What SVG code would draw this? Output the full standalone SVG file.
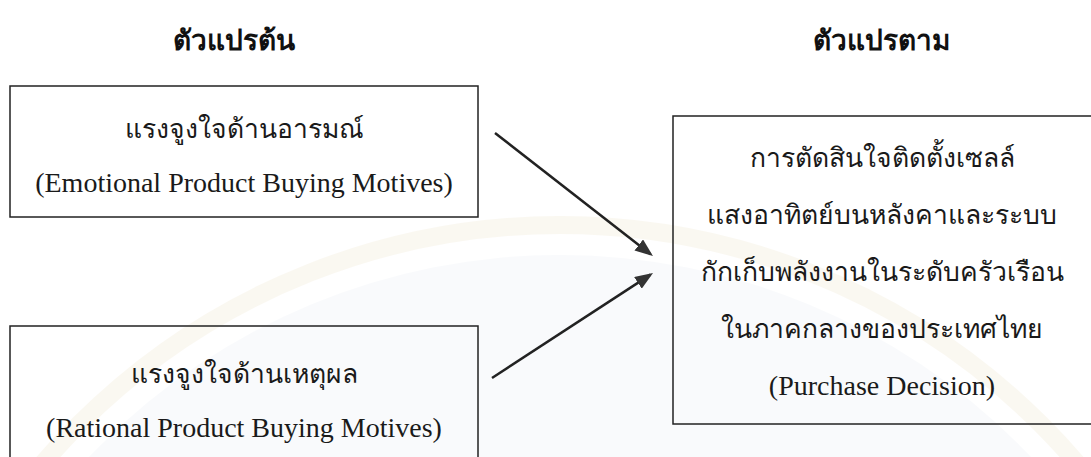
<svg xmlns="http://www.w3.org/2000/svg" width="1091" height="457" viewBox="0 0 1091 457">
  <style>
    .box { fill: none; stroke: #222; stroke-width: 1.5; }
    .th { font-family: "Liberation Serif", serif; font-size: 26.5px; fill: #1a1a1a; text-anchor: middle; }
    .en { font-family: "Liberation Serif", serif; font-size: 28px; fill: #1a1a1a; text-anchor: middle; }
    .title { font-family: "Liberation Serif", serif; font-size: 28px; font-weight: bold; fill: #111; text-anchor: middle; }
    .conn { stroke: #222; stroke-width: 2.5; fill: none; marker-end: url(#arrow); }
  </style>
  <defs>
    <marker id="arrow" viewBox="0 0 18 14" refX="15" refY="7" markerWidth="18" markerHeight="14" markerUnits="userSpaceOnUse" orient="auto">
      <path d="M0,0 L18,7 L0,14 z" fill="#333"/>
    </marker>
  </defs>
  <rect width="1091" height="457" fill="#ffffff"/>
  <g id="watermark" opacity="0.35">
    <circle cx="560" cy="905" r="650" fill="#eef2f8"/>
    <circle cx="560" cy="905" r="680" fill="none" stroke="#f3ecd8" stroke-width="18"/>
  </g>
  <g id="title-independent"><text class="title" x="234" y="50">ตัวแปรต้น</text></g>
  <g id="title-dependent"><text class="title" x="881" y="50">ตัวแปรตาม</text></g>
  <g id="node-emotional">
    <rect class="box" x="10" y="86" width="468" height="131"/>
    <text class="th" x="244" y="138">แรงจูงใจด้านอารมณ์</text>
    <text class="en" x="244" y="192">(Emotional Product Buying Motives)</text>
  </g>
  <g id="node-rational">
    <rect class="box" x="10" y="326" width="468" height="150"/>
    <text class="th" x="244" y="383">แรงจูงใจด้านเหตุผล</text>
    <text class="en" x="244" y="437">(Rational Product Buying Motives)</text>
  </g>
  <g id="node-decision">
    <rect class="box" x="673" y="116" width="425" height="308"/>
    <text class="th" x="882" y="167">การตัดสินใจติดตั้งเซลล์</text>
    <text class="th" x="882" y="224">แสงอาทิตย์บนหลังคาและระบบ</text>
    <text class="th" x="882" y="281">กักเก็บพลังงานในระดับครัวเรือน</text>
    <text class="th" x="882" y="338">ในภาคกลางของประเทศไทย</text>
    <text class="en" x="882" y="395">(Purchase Decision)</text>
  </g>
  <g id="connectors">
    <line class="conn" x1="495" y1="133" x2="650.6" y2="254.2"/>
    <line class="conn" x1="492" y1="378" x2="650.5" y2="274.6"/>
  </g>
</svg>
